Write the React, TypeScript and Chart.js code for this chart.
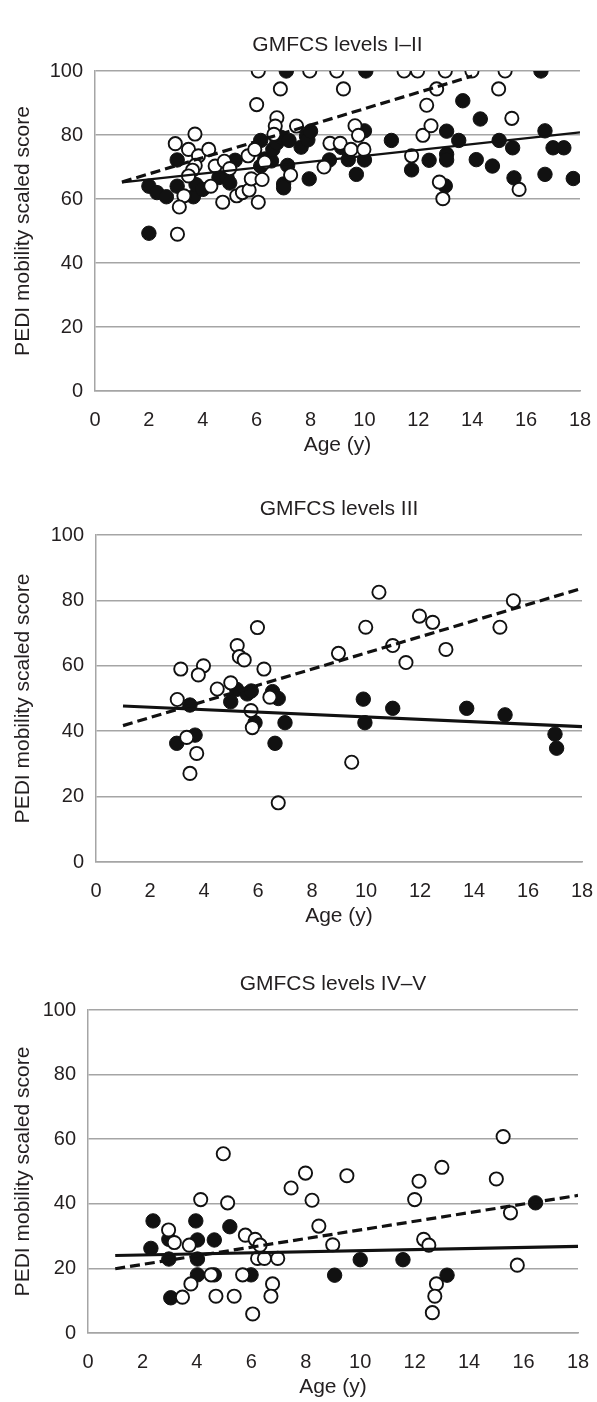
import React, { useEffect, useRef } from "react";
import { Chart, registerables } from "chart.js";

Chart.register(...registerables);

type Pt = [number, number];

// ---------- axis / text content ----------
const AGE_MIN = 0;
const AGE_MAX = 18;
const AGE_STEP = 2;
const SCORE_MIN = 0;
const SCORE_MAX = 100;
const SCORE_STEP = 20;
const X_TITLE = "Age (y)";
const Y_TITLE = "PEDI mobility scaled score";
const PANEL_TITLES = ["GMFCS levels I–II", "GMFCS levels III", "GMFCS levels IV–V"];

// ---------- GMFCS I–II ----------
const levelsI_II_filled: Pt[] = [
  [2.0, 49.3], [2.0, 64], [2.3, 62], [2.65, 60.7], [3.05, 72.2], [3.05, 64], [3.65, 60.7],
  [3.75, 64.5], [4.0, 63], [4.6, 66.7], [4.9, 66.7], [5.0, 65], [5.2, 72.1], [6.15, 78.3],
  [6.15, 70.3], [6.3, 72.5], [6.55, 71.9], [6.6, 75.5], [6.75, 77.5], [6.9, 79.3], [7.0, 64.7],
  [7.0, 63.5], [7.1, 100], [7.15, 70.5], [7.2, 78.3], [7.65, 76.2], [7.85, 79.6], [7.9, 78.5],
  [8.0, 81.2], [7.95, 66.3], [8.7, 72.2], [9.15, 76.1], [9.4, 72.3], [9.7, 67.7], [10.05, 100],
  [10.0, 81.3], [10.0, 72.2], [11.0, 78.3], [11.75, 69.1], [12.4, 72.1], [13.05, 81.2],
  [13.05, 74], [13.05, 72.2], [13.0, 64.1], [13.5, 78.3], [13.65, 90.7], [14.15, 72.3],
  [14.3, 85], [14.75, 70.3], [15.0, 78.3], [15.5, 76], [15.55, 66.6], [16.55, 100], [16.7, 81.3],
  [16.7, 67.7], [17.0, 76], [17.4, 76], [17.75, 66.4],
];
const levelsI_II_open: Pt[] = [
  [2.98, 77.3], [3.47, 75.5], [3.71, 80.3], [3.84, 73.5], [3.72, 70.5], [3.62, 69], [3.47, 67.2],
  [3.3, 61], [3.13, 57.5], [3.06, 49], [4.22, 75.5], [4.46, 70.3], [4.8, 71.8], [4.74, 59],
  [5.26, 61], [5.47, 62], [5.72, 62.8], [5.8, 66.3], [5.68, 73.5], [5.93, 75.5], [6.06, 100],
  [6.0, 89.5], [6.06, 59], [6.2, 66.1], [6.3, 71.5], [6.75, 85.4], [6.69, 82.8], [6.64, 80.2],
  [6.88, 94.4], [7.26, 67.5], [7.48, 82.8], [7.97, 100], [8.5, 70], [8.72, 77.4], [8.97, 100],
  [9.1, 77.4], [9.22, 94.4], [9.5, 75.5], [9.65, 82.9], [9.78, 79.9], [9.98, 75.5], [11.47, 100],
  [11.97, 100], [11.75, 73.5], [12.17, 79.9], [12.31, 89.3], [12.47, 82.9], [12.68, 94.4],
  [12.78, 65.3], [12.91, 60.1], [13.0, 100], [13.99, 100], [15.22, 100], [14.98, 94.4],
  [15.47, 85.2], [15.74, 63], [5.0, 69.5], [4.3, 64],
];
const levelsI_II_solidTrend: Pt[] = [[1, 65.2], [18, 80.8]];
const levelsI_II_dashedTrend: Pt[] = [[1, 65.3], [14, 98.4]];

// ---------- GMFCS III ----------
const levelsIII_filled: Pt[] = [
  [2.99, 36.3], [3.67, 38.8], [3.48, 48], [4.99, 49], [5.21, 52.8], [5.6, 51.4], [5.75, 52.3],
  [5.89, 42.6], [6.54, 52.1], [6.75, 50], [6.63, 36.3], [7.0, 42.6], [9.9, 49.8], [9.96, 42.6],
  [10.99, 47], [13.73, 47], [15.15, 45], [17.0, 39.1], [17.06, 34.8],
];
const levelsIII_open: Pt[] = [
  [3.14, 59], [3.98, 60], [3.79, 57.2], [3.01, 49.7], [3.36, 38.1], [3.73, 33.2], [3.48, 27.1],
  [4.49, 52.9], [4.99, 54.8], [5.23, 66.2], [5.31, 62.8], [5.49, 61.8], [5.98, 71.7], [6.22, 59],
  [6.44, 50.4], [5.74, 46.3], [5.79, 41.1], [6.75, 18.1], [8.98, 63.8], [10.48, 82.5],
  [9.99, 71.8], [10.99, 66.2], [11.48, 61], [11.98, 75.2], [12.47, 73.3], [12.96, 65],
  [14.96, 71.8], [15.46, 79.9], [9.47, 30.5],
];
const levelsIII_solidTrend: Pt[] = [[1, 47.7], [18, 41.4]];
const levelsIII_dashedTrend: Pt[] = [[1, 41.7], [18, 83.7]];

// ---------- GMFCS IV–V ----------
const levelsIV_V_filled: Pt[] = [
  [2.39, 34.7], [2.31, 26.2], [2.97, 29], [2.97, 22.9], [3.04, 10.9], [3.96, 34.7], [4.02, 28.8],
  [4.02, 22.9], [4.02, 18], [4.64, 28.8], [4.64, 18], [5.21, 32.9], [5.99, 18], [9.06, 17.9],
  [10.0, 22.7], [11.57, 22.7], [13.19, 17.9], [16.44, 40.3],
];
const levelsIV_V_open: Pt[] = [
  [4.97, 55.5], [4.14, 41.3], [5.13, 40.3], [2.96, 31.9], [3.17, 28], [3.72, 27.2], [3.78, 15.2],
  [3.47, 11.1], [4.52, 18], [4.7, 11.4], [5.37, 11.4], [5.78, 30.3], [6.14, 29], [6.32, 27.2],
  [6.23, 23.1], [6.48, 23.1], [6.97, 23.1], [5.68, 18], [6.78, 15.2], [6.72, 11.4], [6.05, 5.9],
  [7.46, 44.9], [7.99, 49.5], [8.23, 41.1], [8.48, 33.1], [8.99, 27.3], [9.51, 48.7], [12.16, 47],
  [12.0, 41.3], [13.0, 51.3], [12.33, 29], [12.52, 27.2], [12.8, 15.2], [12.74, 11.4],
  [12.65, 6.3], [15.25, 60.8], [15.0, 47.7], [15.52, 37.2], [15.77, 21],
];
const levelsIV_V_solidTrend: Pt[] = [[1, 24], [18, 26.8]];
const levelsIV_V_dashedTrend: Pt[] = [[1, 19.9], [18, 42.6]];

// ---------- styling ----------
const FONT = "'Liberation Sans', Arial, Helvetica, sans-serif";
const TEXT = "#231f20";
const GRID = "#a5a5a5";
const INK = "#111111";
const PAGE_W = 597;

interface PanelProps {
  title: string;
  filled: Pt[];
  open: Pt[];
  solid: Pt[];
  dashed: Pt[];
  top: number;
  height: number;
  plotLeft: number;
  plotRight: number;
  plotBottom: number;
  xTitlePad: number;
  solidWidth: number;
}

const toXY = (arr: Pt[]) => arr.map(([x, y]) => ({ x, y }));

function Panel(p: PanelProps) {
  const ref = useRef<HTMLCanvasElement | null>(null);
  useEffect(() => {
    if (!ref.current) return;
    const tickFont = { family: FONT, size: 20, weight: "normal" as const, lineHeight: 1.2 };
    const titleFont = { family: FONT, size: 21, weight: "normal" as const, lineHeight: 1.2 };
    const chart = new Chart(ref.current, {
      type: "scatter",
      data: {
        datasets: [
          {
            label: "trend (dashed)",
            data: toXY(p.dashed),
            showLine: true,
            borderColor: INK,
            borderWidth: 3.2,
            borderDash: [10, 5],
            pointRadius: 0,
            fill: false,
            order: 0,
          },
          {
            label: "trend (solid)",
            data: toXY(p.solid),
            showLine: true,
            borderColor: INK,
            borderWidth: p.solidWidth,
            pointRadius: 0,
            fill: false,
            order: 0,
          },
          {
            label: "open",
            data: toXY(p.open),
            pointRadius: 6.6,
            pointBackgroundColor: "#ffffff",
            pointBorderColor: INK,
            pointBorderWidth: 1.9,
            order: 1,
          },
          {
            label: "filled",
            data: toXY(p.filled),
            pointRadius: 7.2,
            pointBackgroundColor: INK,
            pointBorderColor: INK,
            pointBorderWidth: 1,
            order: 2,
          },
        ],
      },
      options: {
        responsive: false,
        animation: false,
        devicePixelRatio: 1,
        events: [],
        layout: { padding: { left: 0, right: PAGE_W - p.plotRight, top: 0, bottom: 0 } },
        plugins: {
          legend: { display: false },
          tooltip: { enabled: false },
          title: {
            display: true,
            text: p.title,
            fullSize: false,
            color: TEXT,
            font: titleFont,
            padding: { top: 33, bottom: 12.8 },
          },
        },
        scales: {
          x: {
            type: "linear",
            min: AGE_MIN,
            max: AGE_MAX,
            ticks: { stepSize: AGE_STEP, padding: 0, color: TEXT, font: tickFont },
            grid: {
              display: true,
              drawOnChartArea: false,
              drawTicks: true,
              tickLength: 17,
              color: "rgba(0,0,0,0)",
            },
            border: { display: true, color: GRID, width: 1.5 },
            title: {
              display: true,
              text: X_TITLE,
              color: TEXT,
              font: titleFont,
              padding: { top: 0, bottom: p.xTitlePad },
            },
            afterFit: (s: any) => {
              s.height = p.height - p.plotBottom;
            },
          },
          y: {
            type: "linear",
            min: SCORE_MIN,
            max: SCORE_MAX,
            ticks: { stepSize: SCORE_STEP, padding: 12, color: TEXT, font: tickFont },
            grid: { color: GRID, lineWidth: 1.5, drawTicks: false },
            border: { display: true, color: GRID, width: 1.5 },
            title: {
              display: true,
              text: Y_TITLE,
              color: TEXT,
              font: titleFont,
              padding: { top: 11, bottom: 0 },
            },
            afterFit: (s: any) => {
              s.width = p.plotLeft;
            },
          },
        },
      },
    } as any);
    return () => chart.destroy();
  }, []);
  return (
    <canvas
      ref={ref}
      width={PAGE_W}
      height={p.height}
      style={{ position: "absolute", left: 0, top: p.top, display: "block" }}
    />
  );
}

export default function App() {
  return (
    <div style={{ position: "absolute", left: 0, top: 0, width: PAGE_W, height: 1402, background: "#fff" }}>
      <Panel
        title={PANEL_TITLES[0]}
        filled={levelsI_II_filled}
        open={levelsI_II_open}
        solid={levelsI_II_solidTrend}
        dashed={levelsI_II_dashedTrend}
        top={0}
        height={463}
        plotLeft={95}
        plotRight={580}
        plotBottom={391}
        xTitlePad={5}
        solidWidth={2.2}
      />
      <Panel
        title={PANEL_TITLES[1]}
        filled={levelsIII_filled}
        open={levelsIII_open}
        solid={levelsIII_solidTrend}
        dashed={levelsIII_dashedTrend}
        top={464}
        height={470}
        plotLeft={96}
        plotRight={582}
        plotBottom={398}
        xTitlePad={5}
        solidWidth={3.2}
      />
      <Panel
        title={PANEL_TITLES[2]}
        filled={levelsIV_V_filled}
        open={levelsIV_V_open}
        solid={levelsIV_V_solidTrend}
        dashed={levelsIV_V_dashedTrend}
        top={939}
        height={462}
        plotLeft={88}
        plotRight={578}
        plotBottom={394}
        xTitlePad={1}
        solidWidth={3.2}
      />
    </div>
  );
}
